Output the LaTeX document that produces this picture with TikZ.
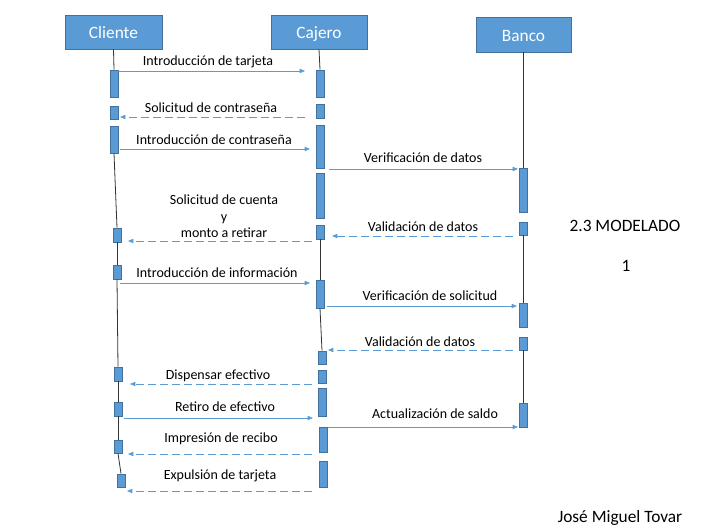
\documentclass[tikz,border=0pt]{standalone}
\usepackage{fontspec}
\setmainfont{Carlito}
\usetikzlibrary{arrows.meta}

\definecolor{boxblue}{HTML}{5B9BD5}
\definecolor{boxedge}{HTML}{41719C}

\begin{document}
\begin{tikzpicture}[
    x=0.75pt, y=-0.75pt,
    head/.style={
      rectangle,
      draw=boxedge,
      fill=boxblue,
      text=white,
      font=\fontsize{13}{15}\selectfont,
      text height=12pt,
      text depth=2pt,
      inner sep=0pt,
      line width=0.6pt
    },
    bar/.style={
      rectangle,
      draw=boxedge,
      fill=boxblue,
      minimum width=6pt,
      inner sep=0pt,
      line width=0.6pt
    },
    life/.style={draw=black!80, line width=0.6pt},
    call/.style={->, draw=boxblue, line width=0.6pt},
    reply/.style={call, dash pattern=on 6pt off 3pt},
    lbl/.style={font=\fontsize{10.5}{12.5}\selectfont, align=center, inner sep=0pt},
    note/.style={font=\fontsize{13}{15}\selectfont, inner sep=0pt},
    >={Triangle[length=4pt,width=3.2pt]},
    ]

    \useasboundingbox (0,0) rectangle (720,530);

    \node[head, minimum width=72.75pt, minimum height=25.5pt] (cliente) at (113.5,32) {Cliente};
    \node[head, minimum width=72pt, minimum height=25.5pt] (cajero) at (319,32) {Cajero};
    \node[head, minimum width=71.25pt, minimum height=26.25pt] (banco) at (523.5,34.5) {Banco};

    \foreach \n/\x/\ya/\yb in {c1/114/70/97,c2/114/106/119,c3/114/126/153,c4/117/228/242,c5/117/265/279,
      c6/118/367/381,c7/118/402/416,c8/118/440/453,c9/121/474/487,
      j1/320/70/97,j2/320/104/118,j3/320/125/168,j4/320/173/218,j5/320/225/239,j6/320/280/308,
      j7/322/351/364,j8/322/370/383,j9/322/388/416,j10/323/427/452,j11/323/461/487,
      b1/523.5/168/212,b2/523.5/222/235,b3/523.5/303/327,b4/523.5/337/350,b5/523.5/403/427}{
      \pgfmathsetmacro\h{0.75*(\yb-\ya)}
      \node[bar, minimum height=\h pt] (\n) at (\x,{(\ya+\yb)/2}) {};
    }

    \path[life]
    (cliente.south) edge (c1.north)
    (c3.south) edge (c4.north)
    (c4.south) edge (c5.north)
    (c5.south) edge (c6.north)
    (c6.south) edge (c7.north)
    (c7.south) edge (c8.north)
    (c8.south) edge (c9.north)
    (cajero.south) edge (j1.north)
    (j5.south) edge (j6.north)
    (j6.south) edge (j7.north)
    (banco.south) edge (b1.north)
    (b2.south) edge (b3.north)
    (b4.south) edge (b5.north)
    ;

    % mensajes
    \foreach \i/\y/\xa/\xb/\lx/\ly/\t in {1/71/118/305/208/62/Introducción de tarjeta,
      3/149/120/310/214/140/Introducción de contraseña,
      4/169/329/518/423/158/Verificación de datos,
      7/283/120/310/217/273/Introducción de información,
      8/306/327/517/430/296/Verificación de solicitud,
      11/418/124/313/225/407/Retiro de efectivo,
      12/427/328/518/435/414/Actualización de saldo}{
      \coordinate (s\i) at (\xa,\y);
      \coordinate (e\i) at (\xb,\y);
      \draw[call] (s\i) -- (e\i);
      \node[lbl] (l\i) at (\lx,\ly) {\t};
    }

    % respuestas
    \foreach \i/\y/\xa/\xb/\lx/\ly/\t in {2/117/305/120/211/108/Solicitud de contraseña,
      5/236/513/332/423/227/Validación de datos,
      6/241/312/128/224/216.5/{Solicitud de cuenta\\y\\monto a retirar},
      9/350/513/328/420/342/Validación de datos,
      10/384/312/130/218/376/Dispensar efectivo,
      13/454/312/128/221/439/Impresión de recibo,
      14/491/312/127/220/476/Expulsión de tarjeta}{
      \coordinate (s\i) at (\xa,\y);
      \coordinate (e\i) at (\xb,\y);
      \draw[reply] (s\i) -- (e\i);
      \node[lbl] (l\i) at (\lx,\ly) {\t};
    }

    \node[note] (titulo) at (625,226) {2.3 MODELADO};
    \node[note] (num) at (626,266) {1};
    \node[note] (autor) at (620,518) {José Miguel Tovar};
  \end{tikzpicture}
\end{document}
